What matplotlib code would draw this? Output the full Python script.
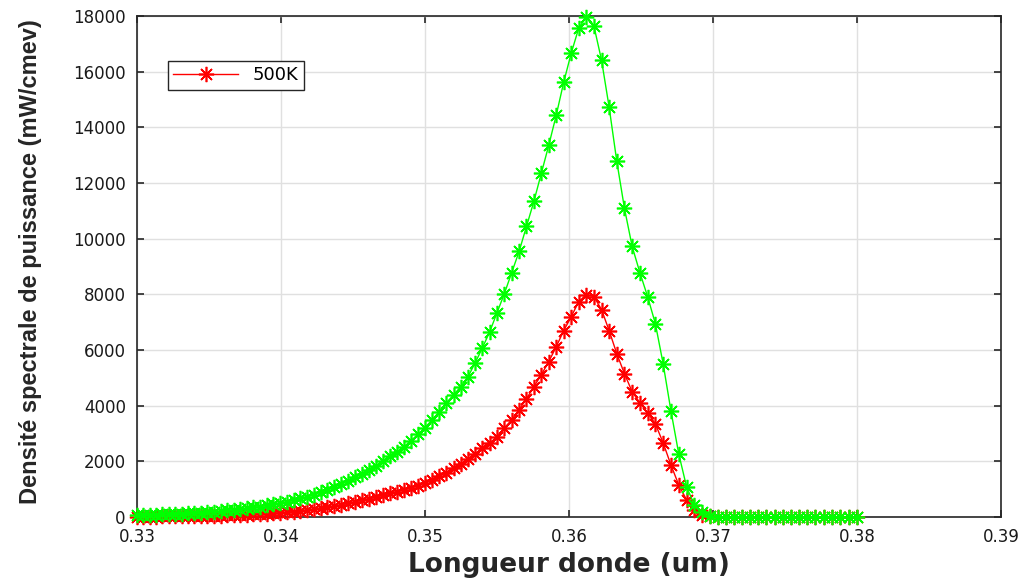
import matplotlib
matplotlib.use('Agg')
import matplotlib.pyplot as plt

# Wavelength samples (um), one per point of both curves
wavelength = [0.330000, 0.330439, 0.330879, 0.331321, 0.331764,
              0.332208, 0.332653, 0.333100, 0.333547, 0.333995,
              0.334445, 0.334896, 0.335348, 0.335802, 0.336257,
              0.336713, 0.337170, 0.337629, 0.338088, 0.338550,
              0.339012, 0.339475, 0.339940, 0.340406, 0.340874,
              0.341342, 0.341812, 0.342283, 0.342756, 0.343230,
              0.343705, 0.344181, 0.344659, 0.345138, 0.345619,
              0.346100, 0.346583, 0.347068, 0.347553, 0.348040,
              0.348529, 0.349019, 0.349510, 0.350002, 0.350497,
              0.350992, 0.351489, 0.351987, 0.352487, 0.352988,
              0.353490, 0.353994, 0.354500, 0.355007, 0.355515,
              0.356025, 0.356536, 0.357049, 0.357563, 0.358079,
              0.358596, 0.359115, 0.359635, 0.360157, 0.360680,
              0.361205, 0.361731, 0.362259, 0.362788, 0.363319,
              0.363852, 0.364386, 0.364921, 0.365458, 0.365997,
              0.366537, 0.367079, 0.367622, 0.368167, 0.368714,
              0.369262, 0.369812, 0.370364, 0.370917, 0.371472,
              0.372028, 0.372586, 0.373146, 0.373708, 0.374271,
              0.374836, 0.375403, 0.375972, 0.376542, 0.377114,
              0.377688, 0.378263, 0.378840, 0.379419, 0.380000]

# Power spectral density (mW/cmev), red curve = 500K
dsp_500k = [12, 13, 15, 17, 19, 21, 24, 27, 30, 33,
            37, 42, 47, 52, 59, 66, 74, 83, 92, 104,
            116, 130, 155, 174, 196, 220, 247, 278, 312, 350,
            392, 440, 492, 552, 602, 657, 717, 781, 852, 915,
            981, 1053, 1130, 1212, 1328, 1456, 1597, 1752, 1912, 2086,
            2276, 2484, 2664, 2880, 3200, 3492, 3852, 4248, 4680, 5112,
            5580, 6120, 6696, 7200, 7740, 7992, 7920, 7452, 6696, 5868,
            5148, 4500, 4104, 3744, 3348, 2664, 1872, 1152, 612, 252,
            80, 20, 0, 0, 0, 0, 0, 0, 0, 0,
            0, 0, 0, 0, 0, 0, 0, 0, 0, 0]

# green curve (no legend entry in the original)
dsp_green = [63, 69, 76, 84, 92, 101, 111, 122, 134, 147,
             161, 177, 195, 214, 235, 258, 284, 312, 343, 377,
             414, 455, 500, 550, 605, 665, 732, 805, 885, 975,
             1070, 1180, 1295, 1420, 1545, 1685, 1835, 2000, 2175, 2330,
             2520, 2740, 2970, 3210, 3492, 3780, 4104, 4392, 4680, 5040,
             5544, 6084, 6660, 7344, 8028, 8784, 9540, 10440, 11340, 12348,
             13356, 14436, 15624, 16668, 17568, 17950, 17640, 16416, 14724, 12780,
             11088, 9720, 8784, 7920, 6948, 5508, 3816, 2268, 1080, 432,
             180, 40, 0, 0, 0, 0, 0, 0, 0, 0,
             0, 0, 0, 0, 0, 0, 0, 0, 0, 0]

x_ticks = [0.33, 0.34, 0.35, 0.36, 0.37, 0.38, 0.39]
y_ticks = [0, 2000, 4000, 6000, 8000, 10000, 12000, 14000, 16000, 18000]

DARK = '#262626'
asterisk = (8, 2, 0)

fig = plt.figure(figsize=(10.29, 5.83), dpi=100)
ax = fig.add_axes([0.1331, 0.1132, 0.8397, 0.8594])

# red first so the legend picks it, green drawn on top
ax.plot(wavelength, dsp_500k, color='#ff0000', lw=1.0, marker=asterisk,
        markersize=11, markeredgewidth=1.2, label='500K', clip_on=False,
        zorder=3)
ax.plot(wavelength, dsp_green, color='#00ff00', lw=1.0, marker=asterisk,
        markersize=11, markeredgewidth=1.2, clip_on=False, zorder=4)

ax.set_xlim(0.33, 0.39)
ax.set_ylim(0, 18000)
ax.set_xticks(x_ticks)
ax.set_xticklabels(['{:.2f}'.format(t) for t in x_ticks])
ax.set_yticks(y_ticks)
ax.set_yticklabels([str(t) for t in y_ticks])

# MATLAB-like box, inward ticks on all sides, light grid
ax.grid(True, color='#e0e0e0', linewidth=1.0)
ax.set_axisbelow(True)
for side in ax.spines.values():
    side.set_color(DARK)
    side.set_linewidth(1.2)
ax.tick_params(direction='in', length=5, width=1.2, colors=DARK,
               top=True, right=True, labelsize=12, pad=8)
for lbl in ax.get_xticklabels() + ax.get_yticklabels():
    lbl.set_color('#1a1a1a')

ax.set_xlabel('Longueur donde (um)', fontsize=19, fontweight='bold',
              color='#262626', labelpad=4)
ax.set_ylabel('Densité spectrale de puissance (mW/cmev)', fontsize=17,
              fontweight='bold', color='#262626',
              family='Liberation Sans')
ax.yaxis.set_label_coords(-0.110, 0.51)

leg = ax.legend(loc='upper left', bbox_to_anchor=(0.036, 0.910),
                borderaxespad=0, fancybox=False, fontsize=13,
                handlelength=3.6, framealpha=1, borderpad=0.3)
leg.get_frame().set_edgecolor(DARK)
leg.get_frame().set_linewidth(1.0)

plt.savefig('out.png', dpi=100)
